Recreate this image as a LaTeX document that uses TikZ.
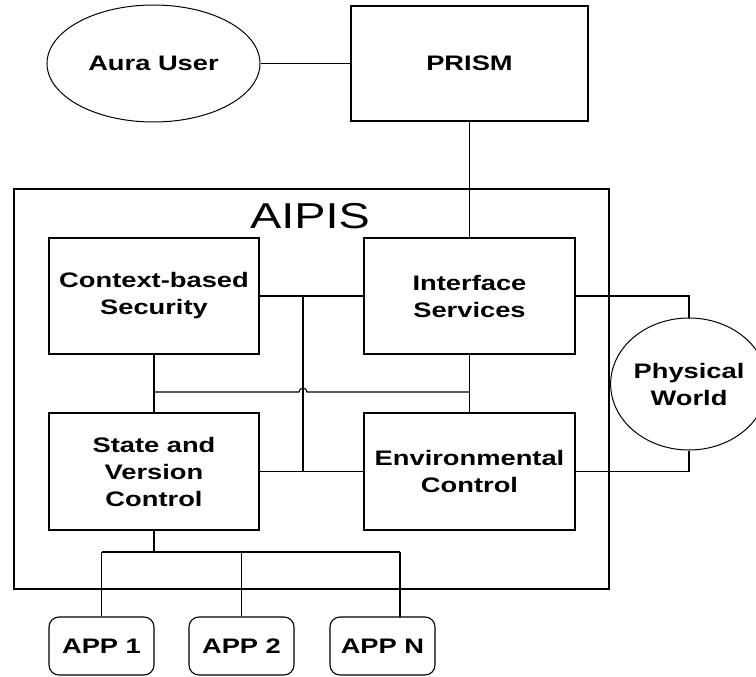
\documentclass[tikz,border=0pt]{standalone}
\usepackage{fontspec}
\newfontfamily\boxfont[FakeStretch=1.3]{Liberation Sans}
\usetikzlibrary{shapes.geometric}
\tikzset{
  lbl/.style={font=\boxfont\bfseries\fontsize{21}{27}\selectfont, align=center},
  blk/.style={draw, line width=1.1pt, rectangle, inner sep=0pt, lbl},
  oval/.style={draw, line width=1pt, ellipse, inner sep=0pt, lbl},
  appbox/.style={draw, line width=1.1pt, rectangle, rounded corners=10pt, inner sep=0pt, lbl, minimum width=105pt, minimum height=58pt},
  wire/.style={line width=1.1pt}
}
\begin{document}
\begin{tikzpicture}[x=1pt, y=-1pt]
\useasboundingbox (0,0) rectangle (756,677);
% outer frame
\node[draw, line width=1.1pt, rectangle, minimum width=595pt, minimum height=400pt, inner sep=0pt] (aipis) at (311.5,389) {};
\node[font=\boxfont\fontsize{36}{40}\selectfont] (title) at (310,216) {AIPIS};
% nodes
\node[oval, minimum width=213pt, minimum height=117pt] (aura) at (153.5,63.5) {Aura User};
\node[blk, minimum width=237pt, minimum height=115pt] (prism) at (469.5,63.5) {PRISM};
\node[blk, minimum width=210pt, minimum height=116pt] (ctx) at (154,296) {Context-based\\Security};
\node[blk, minimum width=211pt, minimum height=116pt] (ifs) at (469.5,296) {Interface\\Services};
\node[blk, minimum width=210pt, minimum height=117pt] (svc) at (154,471.5) {State and\\Version\\Control};
\node[blk, minimum width=211pt, minimum height=117pt] (env) at (469.5,471.5) {Environmental\\Control};
\node[oval, minimum width=156pt, minimum height=132pt] (phys) at (689,384) {Physical\\World};
\node[appbox] (app1) at (101.5,646) {APP 1};
\node[appbox] (app2) at (241.5,646) {APP 2};
\node[appbox] (appn) at (382.5,646) {APP N};
% helper coordinates
\coordinate (jtop) at (303,296);
\coordinate (jbot) at (303,471.5);
\coordinate (hl) at (154,392);
\coordinate (hr) at (469.5,392);
\coordinate (hopa) at (299,392);
\coordinate (pwx) at (689,296);
\coordinate (pwy) at (689,471.5);
\coordinate (busc) at (154,552);
\coordinate (busl) at (101.5,552);
\coordinate (bus2) at (241.5,552);
\coordinate (busr) at (400,552);
\coordinate (appnt) at (400,617);
% connectors
\draw[wire] (aura.east) -- (prism.west);
\draw[wire] (prism.south) -- (ifs.north);
\draw[wire] (ctx.east) -- (ifs.west);
\draw[wire] (svc.east) -- (env.west);
\draw[wire] (jtop) -- (jbot);
\draw[wire] (ctx.south) -- (svc.north);
\draw[wire] (ifs.south) -- (env.north);
\draw[wire] (hl) -- (hopa) arc[start angle=180, end angle=0, radius=4pt] -- (hr);
\draw[wire] (ifs.east) -- (pwx) -- (phys.north);
\draw[wire] (env.east) -- (pwy) -- (phys.south);
\draw[wire] (svc.south) -- (busc);
\draw[wire] (busl) -- (busr);
\draw[wire] (busl) -- (app1.north);
\draw[wire] (bus2) -- (app2.north);
\draw[wire] (busr) -- (appnt);
\end{tikzpicture}
\end{document}
